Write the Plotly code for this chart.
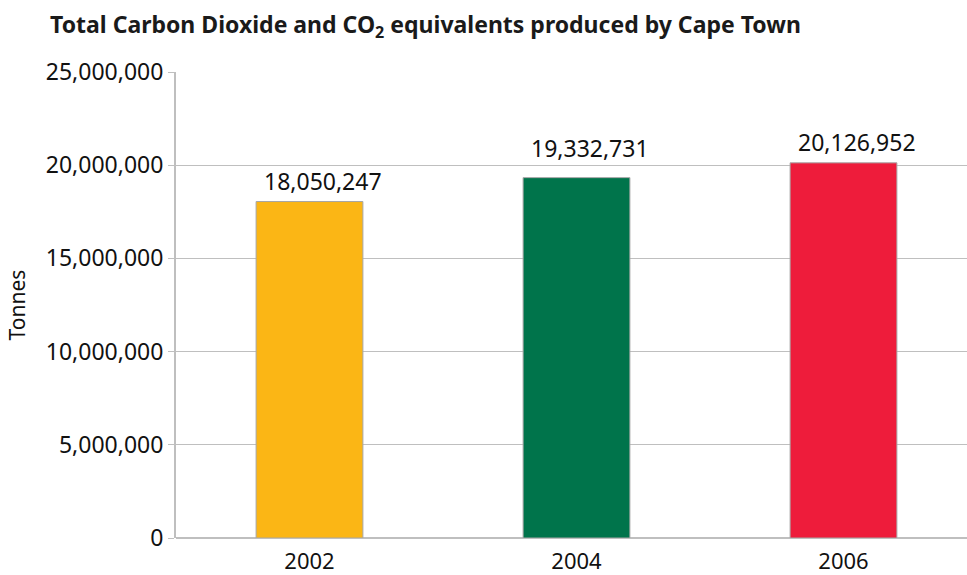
import plotly.graph_objects as go

# Annual totals of CO2 and CO2 equivalents (tonnes)
years = ["2002", "2004", "2006"]
tonnes = [18050247, 19332731, 20126952]
bar_colors = ["#FBB615", "#00744B", "#EE1C3B"]
y_ticks = [0, 5000000, 10000000, 15000000, 20000000, 25000000]

font_family = "Noto Sans, Open Sans, sans-serif"

fig = go.Figure(
    go.Bar(
        x=years,
        y=tonnes,
        width=0.40,
        marker=dict(color=bar_colors, line=dict(color="#A6A6A6", width=1)),
        hovertemplate="%{x}: %{y:,} t<extra></extra>",
    )
)

# Value labels above each bar (x given as category index); pixel lift per label
label_lift = [3, 12, 3]
for i, val in enumerate(tonnes):
    fig.add_annotation(
        x=i,
        y=val,
        xref="x",
        yref="y",
        text=f"{val:,}",
        showarrow=False,
        yanchor="bottom",
        yshift=label_lift[i],
        xshift=13,
        font=dict(family=font_family, size=23, color="#111111"),
    )

fig.update_layout(
    width=967,
    height=575,
    margin=dict(l=176, r=0, t=72, b=35),
    paper_bgcolor="white",
    plot_bgcolor="white",
    showlegend=False,
    font=dict(family=font_family, size=22, color="#111111"),
    title=dict(
        text="<b>Total Carbon Dioxide and CO<sub>2</sub> equivalents produced by Cape Town</b>",
        x=50 / 967,
        xanchor="left",
        y=1 - 25 / 575,
        yanchor="middle",
        font=dict(family=font_family, size=23, color="#1a1a1a"),
    ),
)

fig.update_xaxes(
    type="category",
    range=[-0.5, -0.5 + 791 / 267],
    showgrid=False,
    showline=False,
    ticks="",
    ticklabelstandoff=8,
    tickfont=dict(size=22),
)

fig.update_yaxes(
    range=[0, 25000000],
    tickvals=y_ticks,
    tickformat=",",
    showgrid=True,
    gridcolor="#BFBFBF",
    gridwidth=1,
    zeroline=True,
    zerolinecolor="#BFBFBF",
    showline=True,
    linecolor="#BFBFBF",
    linewidth=2,
    ticks="outside",
    ticklen=6,
    tickcolor="#BFBFBF",
    tickfont=dict(size=23),
    title=dict(text="Tonnes", font=dict(size=21), standoff=14),
)

fig.write_html("out.html")
